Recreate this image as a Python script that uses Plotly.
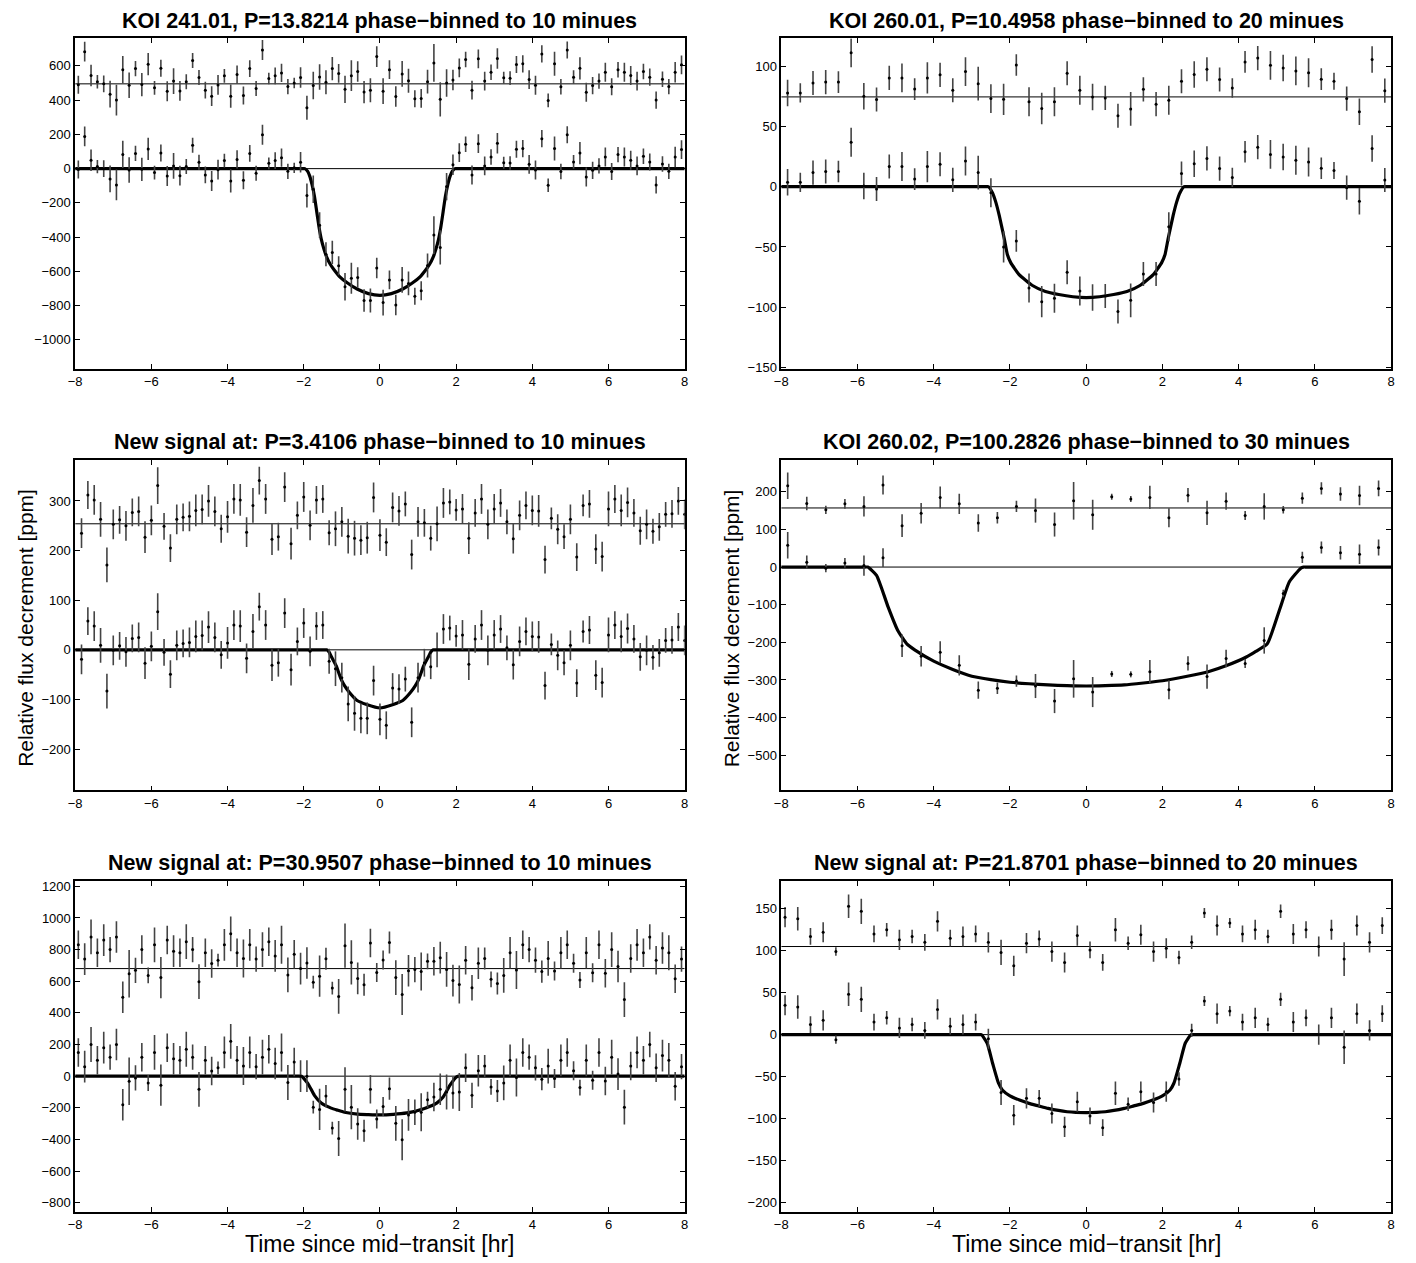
import plotly.graph_objects as go

W, H = 1416, 1263

# ---------------- Panel 1: KOI 241.01 ----------------
p1_title = "KOI 241.01, P=13.8214 phase\u2212binned to 10 minues"
p1_x0, p1_dx = -7.9167, 1 / 6
p1_flux = [-5, 188, 49, 12, 0, -60, -95, 83, -8, 89,
           -4, 115, -23, 91, -43, 16, -41, 12, 136, 37,
           -37, -72, -6, 47, -72, 54, -68, 89, -27, 198,
           31, 47, 64, -16, 5, 37, -157, -120, -330, -500,
           -489, -567, -690, -640, -636, -770, -770, -580, -782, -650,
           -796, -650, -670, -745, -713, -565, -388, -460, -105, 23,
           93, 142, -37, 146, 16, 68, 148, 35, 33, 113,
           117, 25, -8, 175, -97, 117, -17, 198, 39, 91,
           -49, -10, 16, 68, -17, 82, 68, 49, 16, 72,
           39, -95, 27, -16, 68, 111]
p1_resid = [-5, 188, 49, 12, 0, -60, -95, 83, -8, 89,
            -4, 115, -23, 91, -43, 16, -41, 12, 136, 37,
            -37, -72, -6, 47, -72, 54, -68, 89, -27, 198,
            31, 47, 64, -16, 5, 37, -140, -10, 40, 10,
            89, 61, -32, 48, 72, -48, -37, 159, -43, 83,
            -74, 58, 18, -87, -85, 13, 122, -90, 5, 23,
            93, 142, -37, 146, 16, 68, 148, 35, 33, 113,
            117, 25, -8, 175, -97, 117, -17, 198, 39, 91,
            -49, -10, 16, 68, -17, 82, 68, 49, 16, 72,
            39, -95, 27, -16, 68, 111]
p1_err = [53, 58, 63, 39, 49, 78, 90, 80, 75, 45,
          68, 65, 40, 50, 58, 75, 58, 44, 44, 44,
          49, 58, 58, 40, 68, 53, 53, 49, 44, 58,
          34, 49, 53, 44, 30, 60, 70, 80, 75, 70,
          68, 55, 80, 90, 60, 65, 70, 60, 75, 55,
          60, 75, 70, 50, 55, 70, 110, 100, 80, 60,
          55, 45, 55, 55, 55, 45, 60, 35, 40, 50,
          50, 55, 55, 50, 40, 70, 45, 50, 40, 65,
          55, 50, 45, 55, 50, 45, 55, 55, 55, 45,
          50, 50, 45, 45, 60, 55]
p1_offset = 495
p1_model_x = [-8, -3, -2.02, -1.97, -1.9, -1.84, -1.78, -1.72, -1.66, -1.6, -1.54, -1.47, -1.4, -1.3, -1.2, -1.06,
              -0.85, -0.6, -0.3, 0, 0.3, 0.6, 0.85, 1.06, 1.2, 1.3, 1.4, 1.47, 1.54, 1.6, 1.66, 1.72,
              1.78, 1.84, 1.9, 1.97, 2.02, 3, 8]
p1_model_y = [0, 0, 0, 0, -15, -45, -95, -160, -250, -340, -412, -470, -515, -560, -592, -630,
              -668, -703, -730, -740, -730, -703, -668, -630, -592, -560, -515, -470, -412, -340, -250, -160,
              -95, -45, -15, 0, 0, 0, 0]
p1_yrange = [-1168, 760]
p1_yticks = [-1000, -800, -600, -400, -200, 0, 200, 400, 600]

# ---------------- Panel 2: KOI 260.01 ----------------
p2_title = "KOI 260.01, P=10.4958 phase\u2212binned to 20 minues"
p2_x0, p2_dx = -7.8333, 1 / 3
p2_flux = [3.6, 3.6, 11.7, 12.6, 12.6, 36.9, 0.5, -1.9, 16.7, 16.7,
           6.3, 16.7, 18.6, 5.7, 21.3, 11.7, -5, -50, -45, -84,
           -95.4, -92.6, -71, -86.6, -92, -90.7, -103.6, -94.3, -72.4, -72.4,
           -33.3, 10.9, 19.1, 23.5, 15, 7.7, 29, 32.8, 26.8, 24.6,
           21.9, 20.5, 15.3, 13.4, -0.8, -12, 31.7, 5.5]
p2_resid = [3.3, 3.3, 11.5, 12.3, 12.3, 36.6, 0.5, -2.2, 15.8, 15.8,
            6.5, 15.8, 18.3, 5.5, 21, 11, -1.4, -2, 26.5, -4,
            -9.6, -4, 19.7, 5.5, 0, -0.8, -15.6, -10, 6.3, -6,
            -2.7, 13, 18.6, 23, 14.5, 7.4, 29, 32.2, 26.2, 24,
            21.6, 20, 14.7, 13, -1.4, -12.3, 31.1, 5.2]
p2_err = [11, 8, 10, 10, 9, 12, 11, 10, 10, 12,
          9, 13, 10, 10, 12, 14, 12, 13, 9, 12,
          13, 12, 10, 12, 11, 10, 10, 14, 10, 10,
          12, 10, 11, 10, 10, 8, 9, 10, 12, 11,
          12, 12, 9, 7, 10, 11, 11, 10]
p2_offset = 74.5
p2_model_x = [-8, -3.5, -2.62, -2.57, -2.46, -2.37, -2.28, -2.15, -2.07, -1.98, -1.76, -1.41, -1.07, -0.72, -0.35, 0,
              0.35, 0.72, 1.07, 1.41, 1.76, 1.98, 2.07, 2.15, 2.28, 2.37, 2.46, 2.57, 2.62, 3.5, 8]
p2_model_y = [0, 0, 0, 0, -5, -13, -24, -43, -56, -63, -73, -82, -87, -89.5, -91.3, -92,
              -91.3, -89.5, -87, -82, -73, -63, -56, -43, -24, -13, -5, 0, 0, 0, 0]
p2_yrange = [-151, 123]
p2_yticks = [-150, -100, -50, 0, 50, 100]

# ---------------- Panel 3: new signal P=3.4106 ----------------
p3_title = "New signal at: P=3.4106 phase\u2212binned to 10 minues"
p3_x0, p3_dx = -7.8333, 1 / 6
p3_flux = [-19, 58, 48, 9, -83, -1, 8, -4, 23, 25,
           -27, 7, 77, -5, -49, 9, 13, 15, 27, 29,
           46, 25, -10, 14, 50, 48, -17, 37, 87, 50,
           -31, -26, 74, -40, 17, 54, -3, 48, 50, -23,
           -38, -56, -109, -128, -138, -138, -62, -140, -152, -77,
           -79, -59, -146, -56, -26, -34, 0, 42, 44, 28,
           30, -29, 22, 50, -1, 30, 42, 4, -30, 17,
           37, 27, 26, -72, 11, -11, -26, 9, -67, 37,
           40, -51, -66, 30, 50, 27, 43, 22, -14, -1,
           -15, -6, 19, 20, 46, 19]
p3_resid = [-19, 58, 48, 9, -83, -1, 8, -4, 23, 25,
            -27, 7, 77, -5, -49, 9, 13, 15, 27, 29,
            46, 25, -10, 14, 50, 48, -17, 37, 87, 50,
            -31, -26, 74, -40, 17, 54, -3, 48, 50, -18,
            -10, 4, -25, -29, -33, -28, 53, -23, -37, 33,
            26, 40, -62, 4, 2, -29, 0, 42, 44, 28,
            30, -29, 22, 50, -1, 30, 42, 4, -30, 17,
            37, 27, 26, -72, 11, -11, -26, 9, -67, 37,
            40, -51, -66, 30, 50, 27, 43, 22, -14, -1,
            -15, -6, 19, 20, 46, 19]
p3_err = [30, 28, 30, 35, 35, 30, 28, 30, 28, 30,
          32, 30, 37, 27, 28, 30, 28, 30, 32, 30,
          32, 30, 28, 32, 30, 32, 30, 35, 28, 30,
          32, 28, 30, 32, 28, 30, 30, 28, 28, 25,
          35, 30, 35, 35, 30, 32, 30, 32, 28, 30,
          30, 25, 30, 30, 28, 25, 35, 30, 25, 22,
          30, 32, 28, 30, 30, 30, 28, 25, 30, 30,
          28, 30, 32, 28, 22, 30, 25, 30, 28, 22,
          28, 30, 30, 35, 28, 32, 30, 28, 28, 30,
          25, 28, 25, 28, 28, 30]
p3_offset = 254
p3_model_x = [-8, -2.2, -1.45, -1.4, -1.34, -1.28, -1.15, -1.02, -0.93, -0.8, -0.6, -0.35, 0,
              0.35, 0.6, 0.8, 0.93, 1.02, 1.15, 1.28, 1.34, 1.4, 1.45, 2.2, 8]
p3_model_y = [0, 0, 0, 0, -4, -13, -32, -59, -72, -86, -102, -110, -117,
              -110, -102, -86, -72, -59, -32, -13, -4, 0, 0, 0, 0]
p3_yrange = [-283, 383]
p3_yticks = [-200, -100, 0, 100, 200, 300]

# ---------------- Panel 4: KOI 260.02 ----------------
p4_title = "KOI 260.02, P=100.2826 phase\u2212binned to 30 minues"
p4_x0, p4_dx = -7.83, 0.5
p4_flux = [58, 13, -3, 11, 4, 25, -209, -237, -226, -261,
           -327, -322, -303, -316, -356, -297, -332, -284, -285, -278,
           -326, -256, -291, -243, -256, -195, -70, 26, 52, 38,
           34, 52]
p4_resid = [59, 12, -5, 11, 4, 61, -47, -14, 28, 11,
            -40, -26, 4, -7, -44, 19, -18, 30, 24, 28,
            -26, 34, -13, 18, -20, 4, -5, 26, 52, 37,
            33, 52]
p4_err = [35, 18, 11, 13, 27, 25, 30, 27, 29, 27,
          23, 15, 15, 32, 32, 50, 40, 8, 8, 31,
          25, 19, 32, 23, 12, 35, 10, 15, 16, 18,
          26, 21]
p4_offset = 157
p4_model_x = [-8, -6.5, -5.8, -5.73, -5.5, -5.2, -4.95, -4.7, -4.5, -4.0, -3.5, -3.0, -2.5, -2.0, -1.5, -1.0,
              -0.5, 0, 0.5, 1.0, 1.5, 2.0, 2.65, 3.2, 3.7, 4.2, 4.45, 4.75, 5.07, 5.33, 5.63, 5.7, 5.77, 6.5, 8]
p4_model_y = [0, 0, 0, 0, -22, -105, -167, -205, -220, -250, -272, -290, -299, -306, -310, -313,
              -315, -316, -315, -313, -308, -302, -290, -278, -261, -239, -224, -204, -114, -39, -3, 0, 0, 0, 0]
p4_yrange = [-593, 285]
p4_yticks = [-500, -400, -300, -200, -100, 0, 100, 200]

# ---------------- Panel 5: new signal P=30.9507 ----------------
p5_title = "New signal at: P=30.9507 phase\u2212binned to 10 minues"
p5_x0, p5_dx = -7.9167, 1 / 6
p5_flux = [150, 60, 200, 100, 180, 120, 200, -181, -32, -11,
           120, -43, 150, -57, 180, 110, 100, 170, 120, -83,
           100, 32, 53, 150, 220, 100, 64, 150, 60, 120,
           170, 80, 150, -40, 90, 0, 0, -196, -210, -126,
           -328, -394, -83, -196, -302, -345, -83, -270, -191, -79,
           -298, -402, -245, -228, -228, -149, -132, -83, -100, -106,
           -100, 53, -121, 34, 64, -68, -94, -43, 100, -9,
           150, 120, 53, -19, 64, -15, 100, 150, 34, -72,
           100, -26, 150, -30, 120, 13, -196, 64, 150, 100,
           200, 53, 130, 100, -64, 60]
p5_resid = [150, 60, 200, 100, 180, 120, 200, -181, -32, -11,
            120, -43, 150, -57, 180, 110, 100, 170, 120, -83,
            100, 32, 53, 150, 220, 100, 64, 150, 60, 120,
            170, 80, 150, -40, 90, 0, 35, -86, -48, 62,
            -123, -176, 145, 39, -62, -102, 162, -25, 54, 165,
            -57, -164, -14, -6, -18, 46, 46, 69, -5, -76,
            -100, 53, -121, 34, 64, -68, -94, -43, 100, -9,
            150, 120, 53, -19, 64, -15, 100, 150, 34, -72,
            100, -26, 150, -30, 120, 13, -196, 64, 150, 100,
            200, 53, 130, 100, -64, 60]
p5_err = [90, 100, 110, 90, 100, 80, 100, 100, 150, 80,
          90, 50, 110, 130, 90, 100, 90, 110, 80, 110,
          90, 90, 40, 100, 110, 90, 120, 100, 80, 110,
          90, 100, 120, 110, 90, 100, 100, 40, 130, 70,
          40, 110, 140, 140, 100, 70, 90, 60, 60, 70,
          110, 130, 100, 80, 120, 50, 90, 100, 110, 100,
          120, 90, 80, 100, 70, 50, 70, 110, 100, 120,
          90, 80, 80, 70, 110, 60, 100, 90, 60, 50,
          100, 60, 90, 90, 110, 100, 110, 90, 100, 90,
          80, 90, 100, 110, 90, 80]
p5_offset = 680
p5_model_x = [-8, -3, -2.11, -2.06, -1.89, -1.72, -1.54, -1.28, -1.1, -0.93, -0.59, -0.3, 0,
              0.35, 0.71, 0.95, 1.15, 1.3, 1.49, 1.66, 1.84, 2.01, 2.1, 2.15, 3, 8]
p5_model_y = [0, 0, 0, 0, -47, -121, -170, -202, -216, -228, -240, -243, -245,
              -241, -232, -220, -206, -192, -170, -132, -57, -4, 0, 0, 0, 0]
p5_yrange = [-856, 1233]
p5_yticks = [-800, -600, -400, -200, 0, 200, 400, 600, 800, 1000, 1200]

# ---------------- Panel 6: new signal P=21.8701 ----------------
p6_title = "New signal at: P=21.8701 phase\u2212binned to 20 minues"
p6_x0, p6_dx = -7.9, 1 / 3
p6_flux = [35, 33, 12, 17, -6, 48, 42, 15, 20, 8,
           12, 5, 30, 10, 12, 15, -5, -69, -96, -76,
           -76, -94, -110, -80, -97, -111, -70, -83, -68, -81,
           -68, -53, 5, 40, 25, 28, 15, 20, 12, 42,
           15, 20, 0, 20, -15, 25, 5, 25]
p6_resid = [35, 33, 12, 17, -6, 48, 42, 15, 20, 8,
            12, 5, 30, 10, 12, 15, 5, -7, -23, 4,
            9, -6, -19, 13, -4, -19, 20, 4, 14, -6,
            -2, -13, 5, 40, 25, 28, 15, 20, 12, 42,
            15, 20, 0, 20, -15, 25, 5, 25]
p6_err = [12, 14, 10, 12, 5, 14, 15, 10, 8, 12,
          8, 10, 12, 10, 12, 10, 12, 15, 12, 12,
          10, 12, 12, 12, 10, 10, 14, 8, 12, 12,
          12, 8, 8, 6, 12, 6, 10, 12, 8, 8,
          12, 10, 12, 12, 20, 12, 12, 10]
p6_offset = 105
p6_model_x = [-8, -3.5, -2.8, -2.75, -2.6, -2.45, -2.3, -2.2, -2.0, -1.75, -1.5, -1.25, -1.0, -0.5, 0,
              0.5, 1.0, 1.25, 1.5, 1.75, 2.0, 2.2, 2.3, 2.45, 2.6, 2.75, 2.8, 3.5, 8]
p6_model_y = [0, 0, 0, 0, -10, -35, -58, -66, -73, -78, -82, -85, -88, -92, -93,
              -92, -88, -85, -82, -78, -73, -66, -58, -35, -10, 0, 0, 0, 0]
p6_yrange = [-211, 183]
p6_yticks = [-200, -150, -100, -50, 0, 50, 100, 150]

x_ticks = [-8, -6, -4, -2, 0, 2, 4, 6, 8]

panels = [
    (p1_title, p1_x0, p1_dx, p1_flux, p1_resid, p1_err, p1_offset, p1_model_x, p1_model_y, p1_yrange, p1_yticks),
    (p2_title, p2_x0, p2_dx, p2_flux, p2_resid, p2_err, p2_offset, p2_model_x, p2_model_y, p2_yrange, p2_yticks),
    (p3_title, p3_x0, p3_dx, p3_flux, p3_resid, p3_err, p3_offset, p3_model_x, p3_model_y, p3_yrange, p3_yticks),
    (p4_title, p4_x0, p4_dx, p4_flux, p4_resid, p4_err, p4_offset, p4_model_x, p4_model_y, p4_yrange, p4_yticks),
    (p5_title, p5_x0, p5_dx, p5_flux, p5_resid, p5_err, p5_offset, p5_model_x, p5_model_y, p5_yrange, p5_yticks),
    (p6_title, p6_x0, p6_dx, p6_flux, p6_resid, p6_err, p6_offset, p6_model_x, p6_model_y, p6_yrange, p6_yticks),
]

col_px = [(68.7, 683.0), (780.3, 1395.0)]
row_px = [(36.7, 369.0), (460.7, 793.3), (884.7, 1217.3)]

FONT = "Liberation Sans, Arial, Helvetica, sans-serif"
fig = go.Figure()
annotations = []
layout = {}

for i, (title, x0, dx, flux, resid, err, offset, mx, my, yr, yt) in enumerate(panels):
    assert len(flux) == len(resid) == len(err), (i, len(flux), len(resid), len(err))
    assert len(mx) == len(my), (i, len(mx), len(my))
    n = i + 1
    r, c = divmod(i, 2)
    xa = "x" if n == 1 else f"x{n}"
    ya = "y" if n == 1 else f"y{n}"
    xs = [x0 + k * dx for k in range(len(flux))]
    up = [v + offset for v in resid]
    fig.add_trace(go.Scatter(x=[-8, 8], y=[0, 0], mode="lines", line=dict(color="black", width=1),
                             xaxis=xa, yaxis=ya, showlegend=False, hoverinfo="skip"))
    fig.add_trace(go.Scatter(x=[-8, 8], y=[offset, offset], mode="lines", line=dict(color="black", width=1),
                             xaxis=xa, yaxis=ya, showlegend=False, hoverinfo="skip"))
    fig.add_trace(go.Scatter(x=mx, y=my, mode="lines",
                             line=dict(color="black", width=3.2, shape="spline", smoothing=0.5),
                             xaxis=xa, yaxis=ya, showlegend=False))
    for yy in (flux, up):
        fig.add_trace(go.Scatter(x=xs, y=yy, mode="markers",
                                 marker=dict(color="black", size=3),
                                 error_y=dict(type="data", array=err, visible=True, color="#444444",
                                              thickness=1.6, width=0),
                                 xaxis=xa, yaxis=ya, showlegend=False))
    x_l, x_r = col_px[c]
    y_t, y_b = row_px[r]
    common = dict(showgrid=False, zeroline=False, showline=True, linecolor="black", linewidth=1.5,
                  mirror="ticks", ticks="inside", ticklen=5, tickwidth=1, tickcolor="black",
                  tickfont=dict(family=FONT, size=13, color="black"))
    layout[("xaxis" if n == 1 else f"xaxis{n}")] = dict(
        domain=[x_l / W, x_r / W], range=[-8, 8], tickvals=x_ticks, anchor=ya, **common)
    layout[("yaxis" if n == 1 else f"yaxis{n}")] = dict(
        domain=[1 - y_b / H, 1 - y_t / H], range=yr, tickvals=yt, anchor=xa, **common)
    annotations.append(dict(text="<b>" + title + "</b>", x=(x_l + x_r) / 2 / W, y=1 - (y_t - 18) / H,
                            xref="paper", yref="paper", xanchor="center", yanchor="middle", showarrow=False,
                            font=dict(family=FONT, size=21.5, color="black")))

for xc in (18, 730):
    annotations.append(dict(text="Relative flux decrement [ppm]", x=xc / W, y=1 - 630 / H, xref="paper", yref="paper",
                            xanchor="center", yanchor="middle", textangle=-90, showarrow=False,
                            font=dict(family=FONT, size=21, color="black")))
for xc in ((68.7 + 683) / 2, (780.3 + 1395) / 2):
    annotations.append(dict(text="Time since mid\u2212transit [hr]", x=xc / W, y=1 - 1250 / H, xref="paper",
                            yref="paper", xanchor="center", yanchor="middle", showarrow=False,
                            font=dict(family=FONT, size=23, color="black")))

fig.update_layout(width=W, height=H, autosize=False, margin=dict(l=0, r=0, t=0, b=0),
                  paper_bgcolor="white", plot_bgcolor="white", showlegend=False,
                  annotations=annotations, **layout)

fig.write_html("out.html")
